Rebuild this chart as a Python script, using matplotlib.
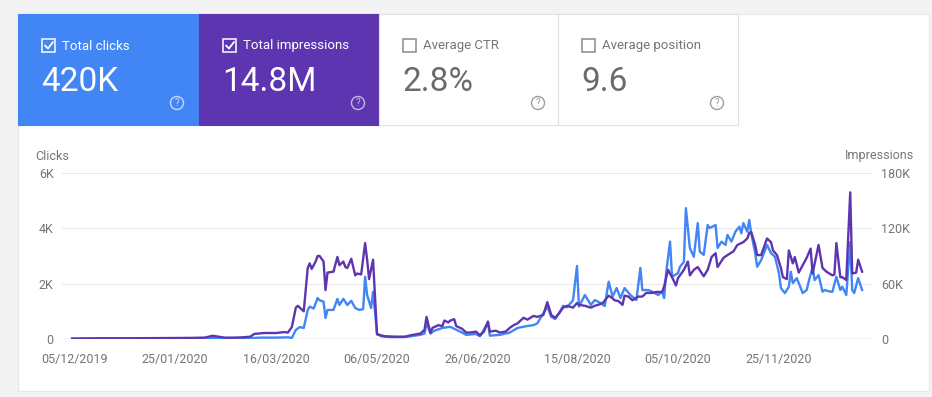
import matplotlib
matplotlib.use("Agg")
import matplotlib.pyplot as plt
from matplotlib.patches import Rectangle, Circle
import pandas as pd

plt.rcParams['font.family'] = ['Roboto', 'DejaVu Sans']

# ---- data (days after 05/12/2019) ----
start = pd.Timestamp('2019-12-05')

imp_days = [-1, 13, 28, 43, 59, 66, 70, 73, 76, 81, 85, 89, 91, 96, 102, 106, 108,
            110, 112, 113, 114, 116, 118, 119, 120, 122, 123, 124, 126, 127, 128, 131,
            133, 134, 136, 137, 138, 140, 142, 143, 145, 147, 148, 149, 151, 153, 155,
            157, 162, 167, 170, 175, 177, 178, 180, 181, 184, 186, 187, 189, 190, 192,
            193, 196, 198, 200, 203, 205, 207, 209, 210, 213, 215, 218, 220, 222, 224,
            227, 229, 232, 234, 237, 239, 241, 243, 245, 247, 249, 252, 254, 255, 258,
            261, 263, 266, 267, 270, 272, 273, 275, 277, 278, 280, 282, 285, 287, 289,
            292, 294, 297, 298, 300, 302, 304, 305, 308, 310, 311, 313, 315, 318, 320,
            322, 324, 325, 328, 330, 333, 335, 338, 340, 341, 342, 344, 345, 347, 350,
            352, 353, 355, 357, 358, 360, 361, 363, 364, 366, 368, 370, 372, 373, 376,
            378, 380, 383, 384, 385, 387, 388, 390, 392, 393, 395, 396, 398]
impressions = [0.5, 0.8, 0.8, 1, 1.2, 1.5, 3.5, 2.5, 1.5, 1.5, 1.8, 2.5, 5.5, 6.5, 6.5, 7.5, 7,
               13, 34, 36, 34, 30, 77, 82, 76, 84, 90, 90, 84, 53, 72, 73,
               89, 80, 84, 78, 77, 87, 69, 71, 70, 104, 86, 65, 86, 5, 4,
               3, 2.5, 2.5, 4, 6, 10, 24, 6.5, 12, 15, 14, 20, 18, 20, 21.5,
               14, 11, 7, 7, 8, 4, 8, 19, 8, 9, 7, 8, 12, 15, 17,
               23, 21, 25, 24, 26, 40, 26, 23, 28, 34, 36, 34, 39, 37, 36,
               34, 36, 38, 39, 47, 44, 42, 41, 37, 47, 46, 42, 46, 46, 50,
               50, 51, 51, 57, 75, 67, 58, 66, 75, 84, 69, 75, 78, 68, 75,
               89, 93, 78, 88, 91, 95, 102, 105, 109, 115, 116, 102, 91, 91, 109,
               105, 96, 91, 77, 67, 65, 96, 82, 89, 72, 80, 88, 98, 71, 102,
               77, 73, 69, 70, 104, 67, 67, 64, 159, 71, 72, 86, 73]  # thousands

clk_days = [-1, 13, 38, 64, 70, 79, 89, 94, 102, 108, 110, 112, 114, 116, 118, 119, 121,
            123, 124, 126, 127, 128, 131, 133, 134, 136, 138, 140, 142, 144, 146, 147,
            148, 150, 151, 153, 155, 160, 167, 175, 177, 178, 180, 182, 186, 190, 192,
            196, 198, 203, 205, 209, 210, 215, 220, 224, 229, 232, 234, 239, 241, 243,
            245, 247, 249, 252, 254, 255, 258, 261, 263, 266, 268, 270, 272, 274, 276,
            278, 281, 284, 286, 287, 290, 292, 295, 297, 298, 299, 301, 302, 305, 306,
            308, 309, 311, 313, 315, 316, 318, 320, 321, 324, 325, 327, 329, 330, 332,
            334, 336, 337, 338, 340, 341, 342, 344, 345, 347, 350, 352, 354, 356, 357,
            359, 361, 362, 363, 365, 368, 370, 371, 373, 374, 376, 378, 379, 382, 383,
            385, 387, 388, 390, 392, 393, 394, 396, 398]
clicks = [0.0, 0.01, 0.01, 0.02, 0.04, 0.02, 0.03, 0.05, 0.05, 0.06, 0.04, 0.33, 0.43, 0.40, 1.05, 1.17, 1.10,
          1.48, 1.40, 1.35, 0.76, 1.05, 1.05, 1.45, 1.23, 1.45, 1.23, 1.38, 1.12, 1.05, 1.08, 2.25,
          1.59, 1.12, 1.71, 0.2, 0.1, 0.07, 0.07, 0.15, 0.2, 0.58, 0.2, 0.3, 0.4, 0.44, 0.37,
          0.23, 0.15, 0.18, 0.1, 0.59, 0.12, 0.15, 0.23, 0.4, 0.47, 0.5, 0.57, 1.17, 0.8, 0.72,
          0.94, 1.2, 1.15, 1.4, 2.64, 1.17, 1.59, 1.23, 1.41, 1.3, 1.19, 2.07, 1.53, 1.84, 1.48,
          1.84, 1.59, 1.41, 2.57, 1.77, 1.77, 1.71, 1.59, 1.71, 1.48, 2.38, 3.52, 2.25, 2.38, 2.61,
          2.79, 4.73, 3.29, 2.97, 4.19, 3.16, 3.04, 4.12, 4.01, 4.12, 3.29, 3.52, 3.4, 3.76, 3.52,
          3.88, 4.06, 3.82, 4.19, 3.88, 4.3, 3.82, 3.1, 2.61, 2.85, 3.4, 3.1, 2.97, 2.38, 1.84,
          1.66, 1.89, 2.43, 2.02, 2.2, 1.66, 1.77, 2.07, 2.61, 2.13, 2.31, 1.71, 1.77, 1.71, 1.71,
          2.25, 1.77, 1.89, 1.59, 3.5, 1.77, 1.66, 2.2, 1.77]  # thousands

tick_labels = ['05/12/2019', '25/01/2020', '16/03/2020', '06/05/2020',
               '26/06/2020', '15/08/2020', '05/10/2020', '25/11/2020']

tiles = [('Total clicks', '420K', True), ('Total impressions', '14.8M', True),
         ('Average CTR', '2.8%', False), ('Average position', '9.6', False)]

BLUE = '#4285f4'
PURPLE = '#5e35b1'
GREY = '#757575'

W, H = 932, 397
fig = plt.figure(figsize=(W / 100, H / 100), dpi=100)
fig.patch.set_facecolor('#f3f3f3')

# background axes in pixel coordinates
bg = fig.add_axes([0, 0, 1, 1])
bg.set_xlim(0, W)
bg.set_ylim(H, 0)
bg.axis('off')

# card
bg.add_patch(Rectangle((19, 15), 911, 377, facecolor='#dcdcdc', edgecolor='none'))
bg.add_patch(Rectangle((18, 14), 911, 377, facecolor='white', edgecolor='#e6e6e6', lw=0.8))

# summary tiles
tile_x = [18, 199, 379, 558]
fills = [BLUE, PURPLE, 'white', 'white']
for (label, value, on), x0, fc in zip(tiles, tile_x, fills):
    w = 181 if on else 180
    ec = fc if on else '#e0e0e0'
    bg.add_patch(Rectangle((x0, 14), w, 111, facecolor=fc, edgecolor=ec, lw=0.8))
    tc = 'white' if on else '#6b6b6b'
    lc = 'white' if on else GREY
    # checkbox
    bg.add_patch(Rectangle((x0 + 24, 39), 13, 13, facecolor='none',
                           edgecolor='white' if on else '#8a8a8a', lw=1.1))
    if on:
        bg.plot([x0 + 27, x0 + 30, x0 + 35], [45.5, 48.5, 42], color='white', lw=1.3,
                solid_capstyle='round')
    bg.text(x0 + 44, 46, label, color=lc, fontsize=9.5, va='center', ha='left')
    bg.text(x0 + 23, 82, value, color=tc, fontsize=24, va='center', ha='left')
    # help icon
    cx = x0 + 159
    icol = '#c9d9fb' if fc == BLUE else ('#c8b9e6' if fc == PURPLE else '#9e9e9e')
    bg.add_patch(Circle((cx, 103), 6.5, facecolor='none', edgecolor=icol, lw=1))
    bg.text(cx, 103.5, '?', color=icol, fontsize=7, ha='center', va='center')

# chart axes, placed in pixels
left, right, top, bottom = 62, 873, 173, 339
ax = fig.add_axes([left / W, 1 - bottom / H, (right - left) / W, (bottom - top) / H])
ax.patch.set_alpha(0)
ax2 = ax.twinx()

imp_dates = start + pd.to_timedelta(imp_days, unit='D')
clk_dates = start + pd.to_timedelta(clk_days, unit='D')
ax.plot(clk_dates, [c * 1000 for c in clicks], color=BLUE, lw=1.7, solid_joinstyle='round')
ax2.plot(imp_dates, [v * 1000 for v in impressions], color=PURPLE, lw=1.7,
         solid_joinstyle='round')

ax.set_ylim(0, 6000)
ax2.set_ylim(0, 180000)
ax.set_yticks([0, 2000, 4000, 6000])
ax.set_yticklabels(['0', '2K', '4K', '6K'])
ax2.set_yticks([0, 60000, 120000, 180000])
ax2.set_yticklabels(['0', '60K', '120K', '180K'])

tick_pos = pd.to_datetime(tick_labels, format='%d/%m/%Y')
ax.set_xticks(tick_pos)
ax.set_xticklabels(tick_labels)
ax.set_xlim(start - pd.Timedelta(days=6.1), start + pd.Timedelta(days=403.5))

for a in (ax, ax2):
    for s in a.spines.values():
        s.set_visible(False)
    a.tick_params(length=0, labelsize=9, labelcolor=GREY)
ax.tick_params(axis='y', pad=6)
ax2.tick_params(axis='y', pad=6)
ax.tick_params(axis='x', pad=10)
ax.grid(axis='y', color='#ebebeb', lw=0.8)
ax.set_axisbelow(True)
ax.axhline(0, color='#9e9e9e', lw=0.9, zorder=1)

bg.text(35, 156, 'Clicks', color=GREY, fontsize=9, va='center', ha='left')
bg.text(914, 156, 'Impressions', color=GREY, fontsize=9, va='center', ha='right')

fig.savefig('out.png', dpi=100, facecolor=fig.get_facecolor())
